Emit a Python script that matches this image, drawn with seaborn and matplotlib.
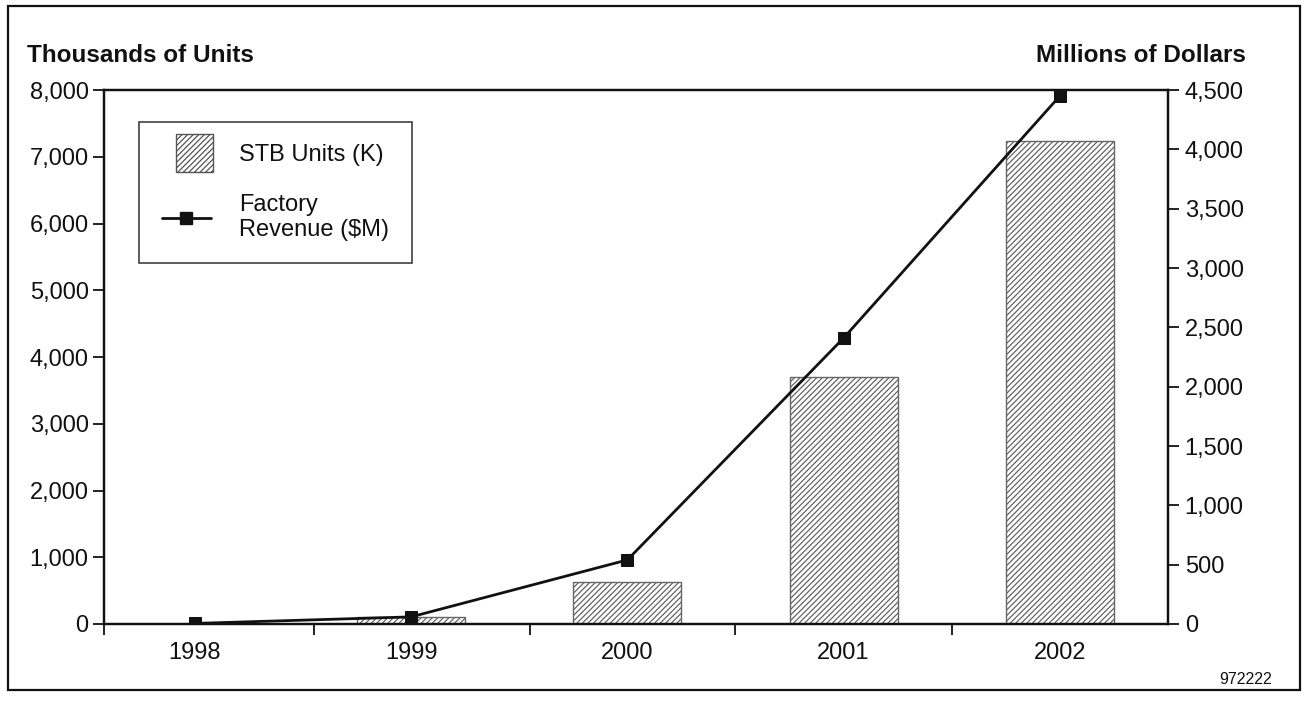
import matplotlib
matplotlib.use("Agg")
import matplotlib.pyplot as plt
import seaborn as sns
import numpy as np
import pandas as pd
from matplotlib.patches import Patch, Rectangle
from matplotlib.lines import Line2D
from matplotlib.legend_handler import HandlerPatch

years = ["1998", "1999", "2000", "2001", "2002"]
stb_units_k = [5, 100, 630, 3700, 7240]
revenue_m = [5, 60, 540, 2410, 4450]
left_ticks = [0, 1000, 2000, 3000, 4000, 5000, 6000, 7000, 8000]
right_ticks = [0, 500, 1000, 1500, 2000, 2500, 3000, 3500, 4000, 4500]

sns.set_theme(style="white")
plt.rcParams['font.family'] = ['Liberation Sans', 'DejaVu Sans']
plt.rcParams['hatch.color'] = '#8a8a8a'
plt.rcParams['hatch.linewidth'] = 0.9

INK = "#111111"
FS = 17

fig = plt.figure(figsize=(13.04, 7.07), dpi=100)
ax = fig.add_axes([104/1304, 1-624/707, (1168-104)/1304, (624-90)/707])

df = pd.DataFrame({"year": years, "units": stb_units_k})
sns.barplot(data=df, x="year", y="units", ax=ax, color="white", width=0.5,
            edgecolor="#666666", linewidth=1.0, hatch="//////", saturation=1)

ax2 = ax.twinx()
sns.lineplot(x=np.arange(len(years)), y=revenue_m, ax=ax2, color=INK,
             linewidth=2.0, marker="s", markersize=9, markeredgecolor=INK,
             markerfacecolor=INK)

ax.set_xlim(-0.42, 4.5)
ax.set_ylim(0, 8000)
ax2.set_ylim(0, 4500)
ax.set_yticks(left_ticks)
ax.set_yticklabels([f"{v:,}" for v in left_ticks])
ax2.set_yticks(right_ticks)
ax2.set_yticklabels([f"{v:,}" for v in right_ticks])
ax.set_xticks(range(len(years)))
ax.set_xticklabels(years)
ax.set_xticks([-0.42, 0.55, 1.55, 2.5, 3.5], minor=True)
ax.set_xlabel("")
ax.set_ylabel("")
ax2.set_ylabel("")

for a in (ax, ax2):
    for s in a.spines.values():
        s.set_color(INK)
        s.set_linewidth(1.6)
ax.tick_params(axis="y", which="major", direction="out", length=8, width=1.3,
               color=INK, labelsize=FS, labelcolor=INK, left=True, pad=3)
ax2.tick_params(axis="y", which="major", direction="out", length=8, width=1.3,
                color=INK, labelsize=FS, labelcolor=INK, right=True, pad=4)
ax.tick_params(axis="x", which="major", length=0, labelsize=FS, labelcolor=INK, pad=13)
ax.tick_params(axis="x", which="minor", direction="out", length=8, width=1.3,
               color=INK, bottom=True)
ax2.tick_params(axis="x", which="both", length=0)


class SquareHandler(HandlerPatch):
    def create_artists(self, legend, orig_handle, xdescent, ydescent, width,
                       height, fontsize, trans):
        side = 27
        cx = -xdescent + width / 2 + 6
        cy = -ydescent + height / 2
        p = Rectangle((cx - side / 2, cy - side / 2), side, side,
                      facecolor="white", edgecolor="#555555", hatch="//////",
                      linewidth=1.0, transform=trans)
        return [p]


bar_handle = Patch(facecolor="white", edgecolor="#555555", hatch="//////")
line_handle = Line2D([0], [0], color=INK, linewidth=2.0, marker="s", markersize=9)
handles = [bar_handle, line_handle]
labels = ["STB Units (K)", "Factory\nRevenue ($M)"]
leg = ax2.legend(handles, labels, loc="upper left", bbox_to_anchor=(0.033, 0.94),
                 frameon=True, fancybox=False, edgecolor=INK, fontsize=FS,
                 borderpad=0.95, labelspacing=1.15, handlelength=2.1, handletextpad=1.2,
                 borderaxespad=0, handler_map={Patch: SquareHandler()})
leg.get_frame().set_linewidth(1.2)
for t in leg.get_texts():
    t.set_color(INK)
    t.set_linespacing(1.2)

fig.text(27/1304, 1-55/707, "Thousands of Units", fontsize=17.5, fontweight="bold",
         ha="left", va="center", color=INK)
fig.text(1246/1304, 1-55/707, "Millions of Dollars", fontsize=17.5, fontweight="bold",
         ha="right", va="center", color=INK)
fig.text(1272/1304, 1-680/707, "972222", fontsize=11.5, ha="right", va="center",
         color=INK)

fig.add_artist(Rectangle((8/1304, 1-690/707), (1300-8)/1304, (690-6)/707,
                         transform=fig.transFigure, fill=False, edgecolor=INK,
                         linewidth=1.6))

fig.savefig("out.png", dpi=100, facecolor="white")
